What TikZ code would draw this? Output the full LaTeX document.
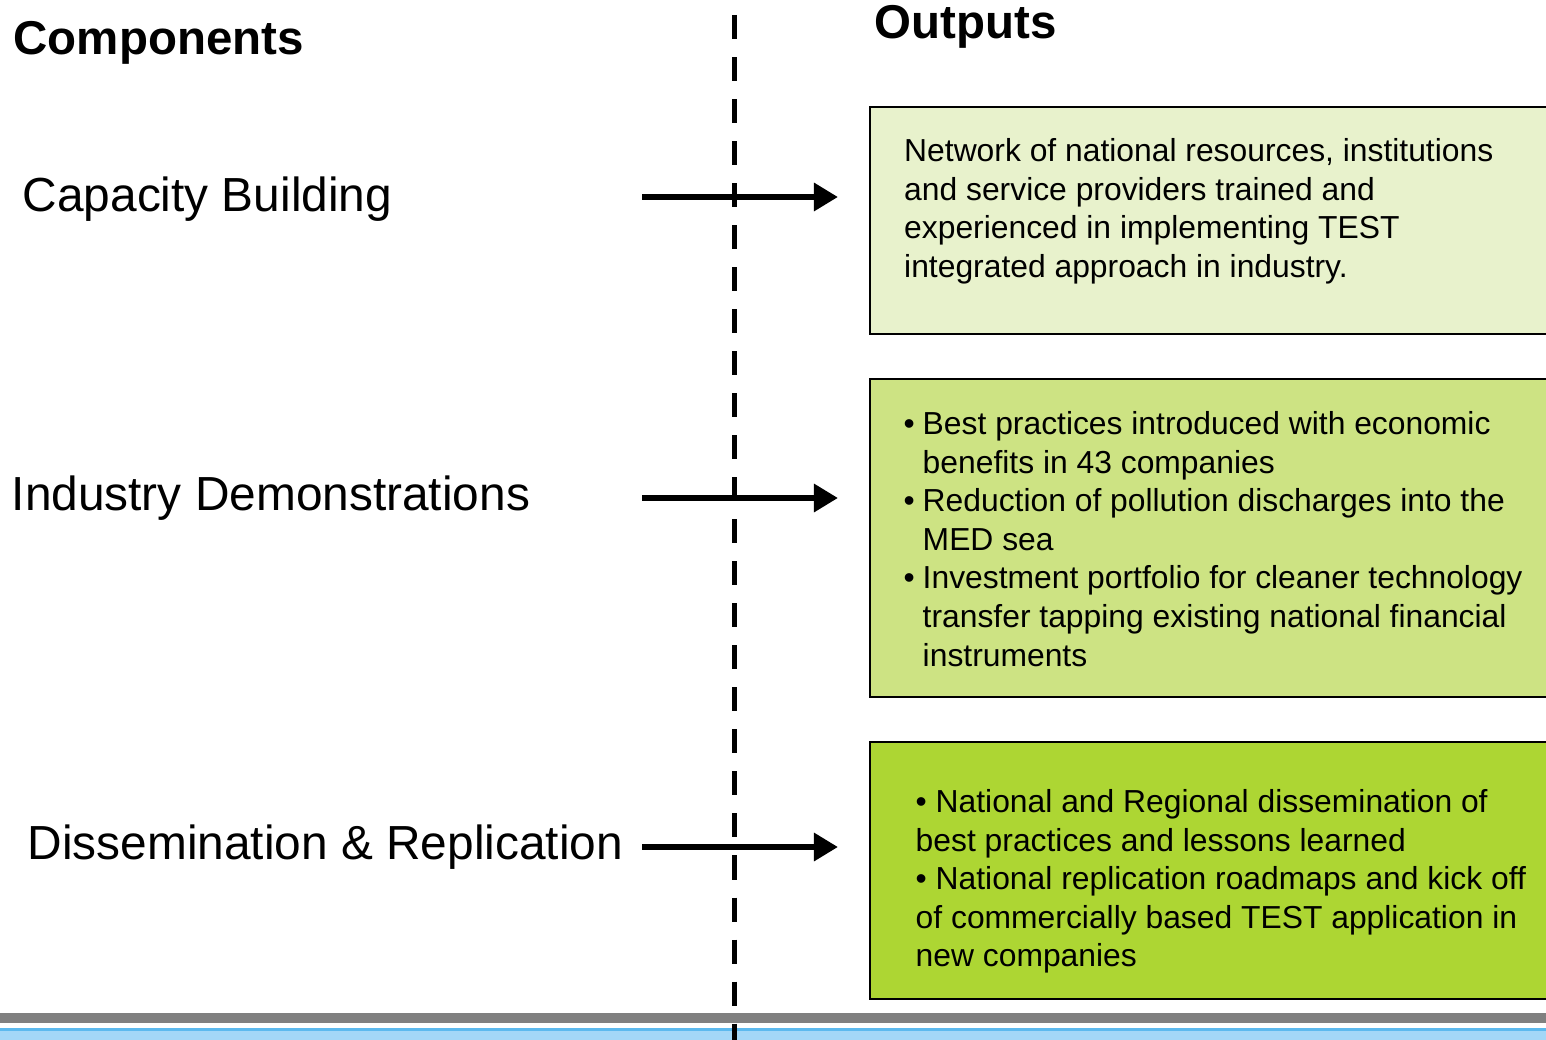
\documentclass[tikz,border=0pt]{standalone}
\usepackage{fontspec}
\setmainfont{Liberation Sans}
\usepackage{tikz}
\usetikzlibrary{arrows.meta}
\definecolor{paleg}{HTML}{E8F2CC}
\definecolor{midg}{HTML}{CDE383}
\definecolor{deepg}{HTML}{ADD633}
\definecolor{barg}{HTML}{808080}
\definecolor{stripb}{HTML}{A3D7F7}
\definecolor{stripe}{HTML}{5CB9EE}
\tikzstyle{heading} = [anchor=base west, inner sep=0, font=\fontsize{13.5pt}{16pt}\selectfont\bfseries]
\tikzstyle{component} = [anchor=base west, inner sep=0, font=\fontsize{13.6pt}{16pt}\selectfont]
\tikzstyle{output} = [draw, line width=0.6pt, anchor=north west, minimum width=6.91cm, inner sep=0]
\tikzstyle{outtext} = [anchor=north west, inner sep=0, align=left, font=\fontsize{9.05pt}{10.96pt}\selectfont]
\tikzstyle{flow} = [line width=0.06cm, shorten >=0.31cm, -{Triangle[length=0.24cm,width=0.27cm]}]
\tikzstyle{divider} = [line width=0.05cm, dash pattern=on 0.24cm off 0.18cm]
\newcommand{\bitem}{\makebox[0.19cm][l]{\textbullet}}
\newcommand{\bcont}{\hspace*{0.19cm}}

\begin{document}
\begin{tikzpicture}[x=0.01cm, y=-0.01cm]
\useasboundingbox (0,0) rectangle (1546,1040);
\clip (0,0) rectangle (1546,1040);

% headings
\node (hcomp) [heading] at (13,55) {Components};
\node (hout)  [heading] at (874,39) {Outputs};

% components
\node (cap) [component] at (22,212) {Capacity Building};
\node (ind) [component] at (11,510) {Industry Demonstrations};
\node (dis) [component] at (27,859) {Dissemination \& Replication};

% output boxes
\node (box1) [output, fill=paleg, minimum height=2.27cm] at (869,106) {};
\node (box2) [output, fill=midg,  minimum height=3.18cm] at (869,378) {};
\node (box3) [output, fill=deepg, minimum height=2.57cm] at (869,741) {};

\node (t1) [outtext, xshift=0.345cm, yshift=-0.32cm] at (box1.north west)
  {Network of national resources, institutions\\
   and service providers trained and\\
   experienced in implementing TEST\\
   integrated approach in industry.};
\node (t2) [outtext, xshift=0.34cm, yshift=-0.33cm] at (box2.north west)
  {\bitem Best practices introduced with economic\\
   \bcont benefits in 43 companies\\
   \bitem Reduction of pollution discharges into the\\
   \bcont MED sea\\
   \bitem Investment portfolio for cleaner technology\\
   \bcont transfer tapping existing national financial\\
   \bcont instruments};
\node (t3) [outtext, xshift=0.46cm, yshift=-0.48cm] at (box3.north west)
  {\textbullet{} National and Regional dissemination of\\
   best practices and lessons learned\\
   \textbullet{} National replication roadmaps and kick off\\
   of commercially based TEST application in\\
   new companies};

% footer
\fill[barg] (0,1013) rectangle (1546,1023);
\fill[stripb] (0,1028) rectangle (1546,1040);
\fill[stripe] (0,1028) rectangle (1546,1031);

% divider
\coordinate (dtop) at (734,15);
\coordinate (dbot) at (734,1045);
\draw[divider] (dtop) -- (dbot);

% arrows
\coordinate (a1) at (642,197);
\coordinate (a2) at (642,498);
\coordinate (a3) at (642,847);
\draw[flow] (a1) -- (a1 -| box1.west);
\draw[flow] (a2) -- (a2 -| box2.west);
\draw[flow] (a3) -- (a3 -| box3.west);

\end{tikzpicture}
\end{document}
